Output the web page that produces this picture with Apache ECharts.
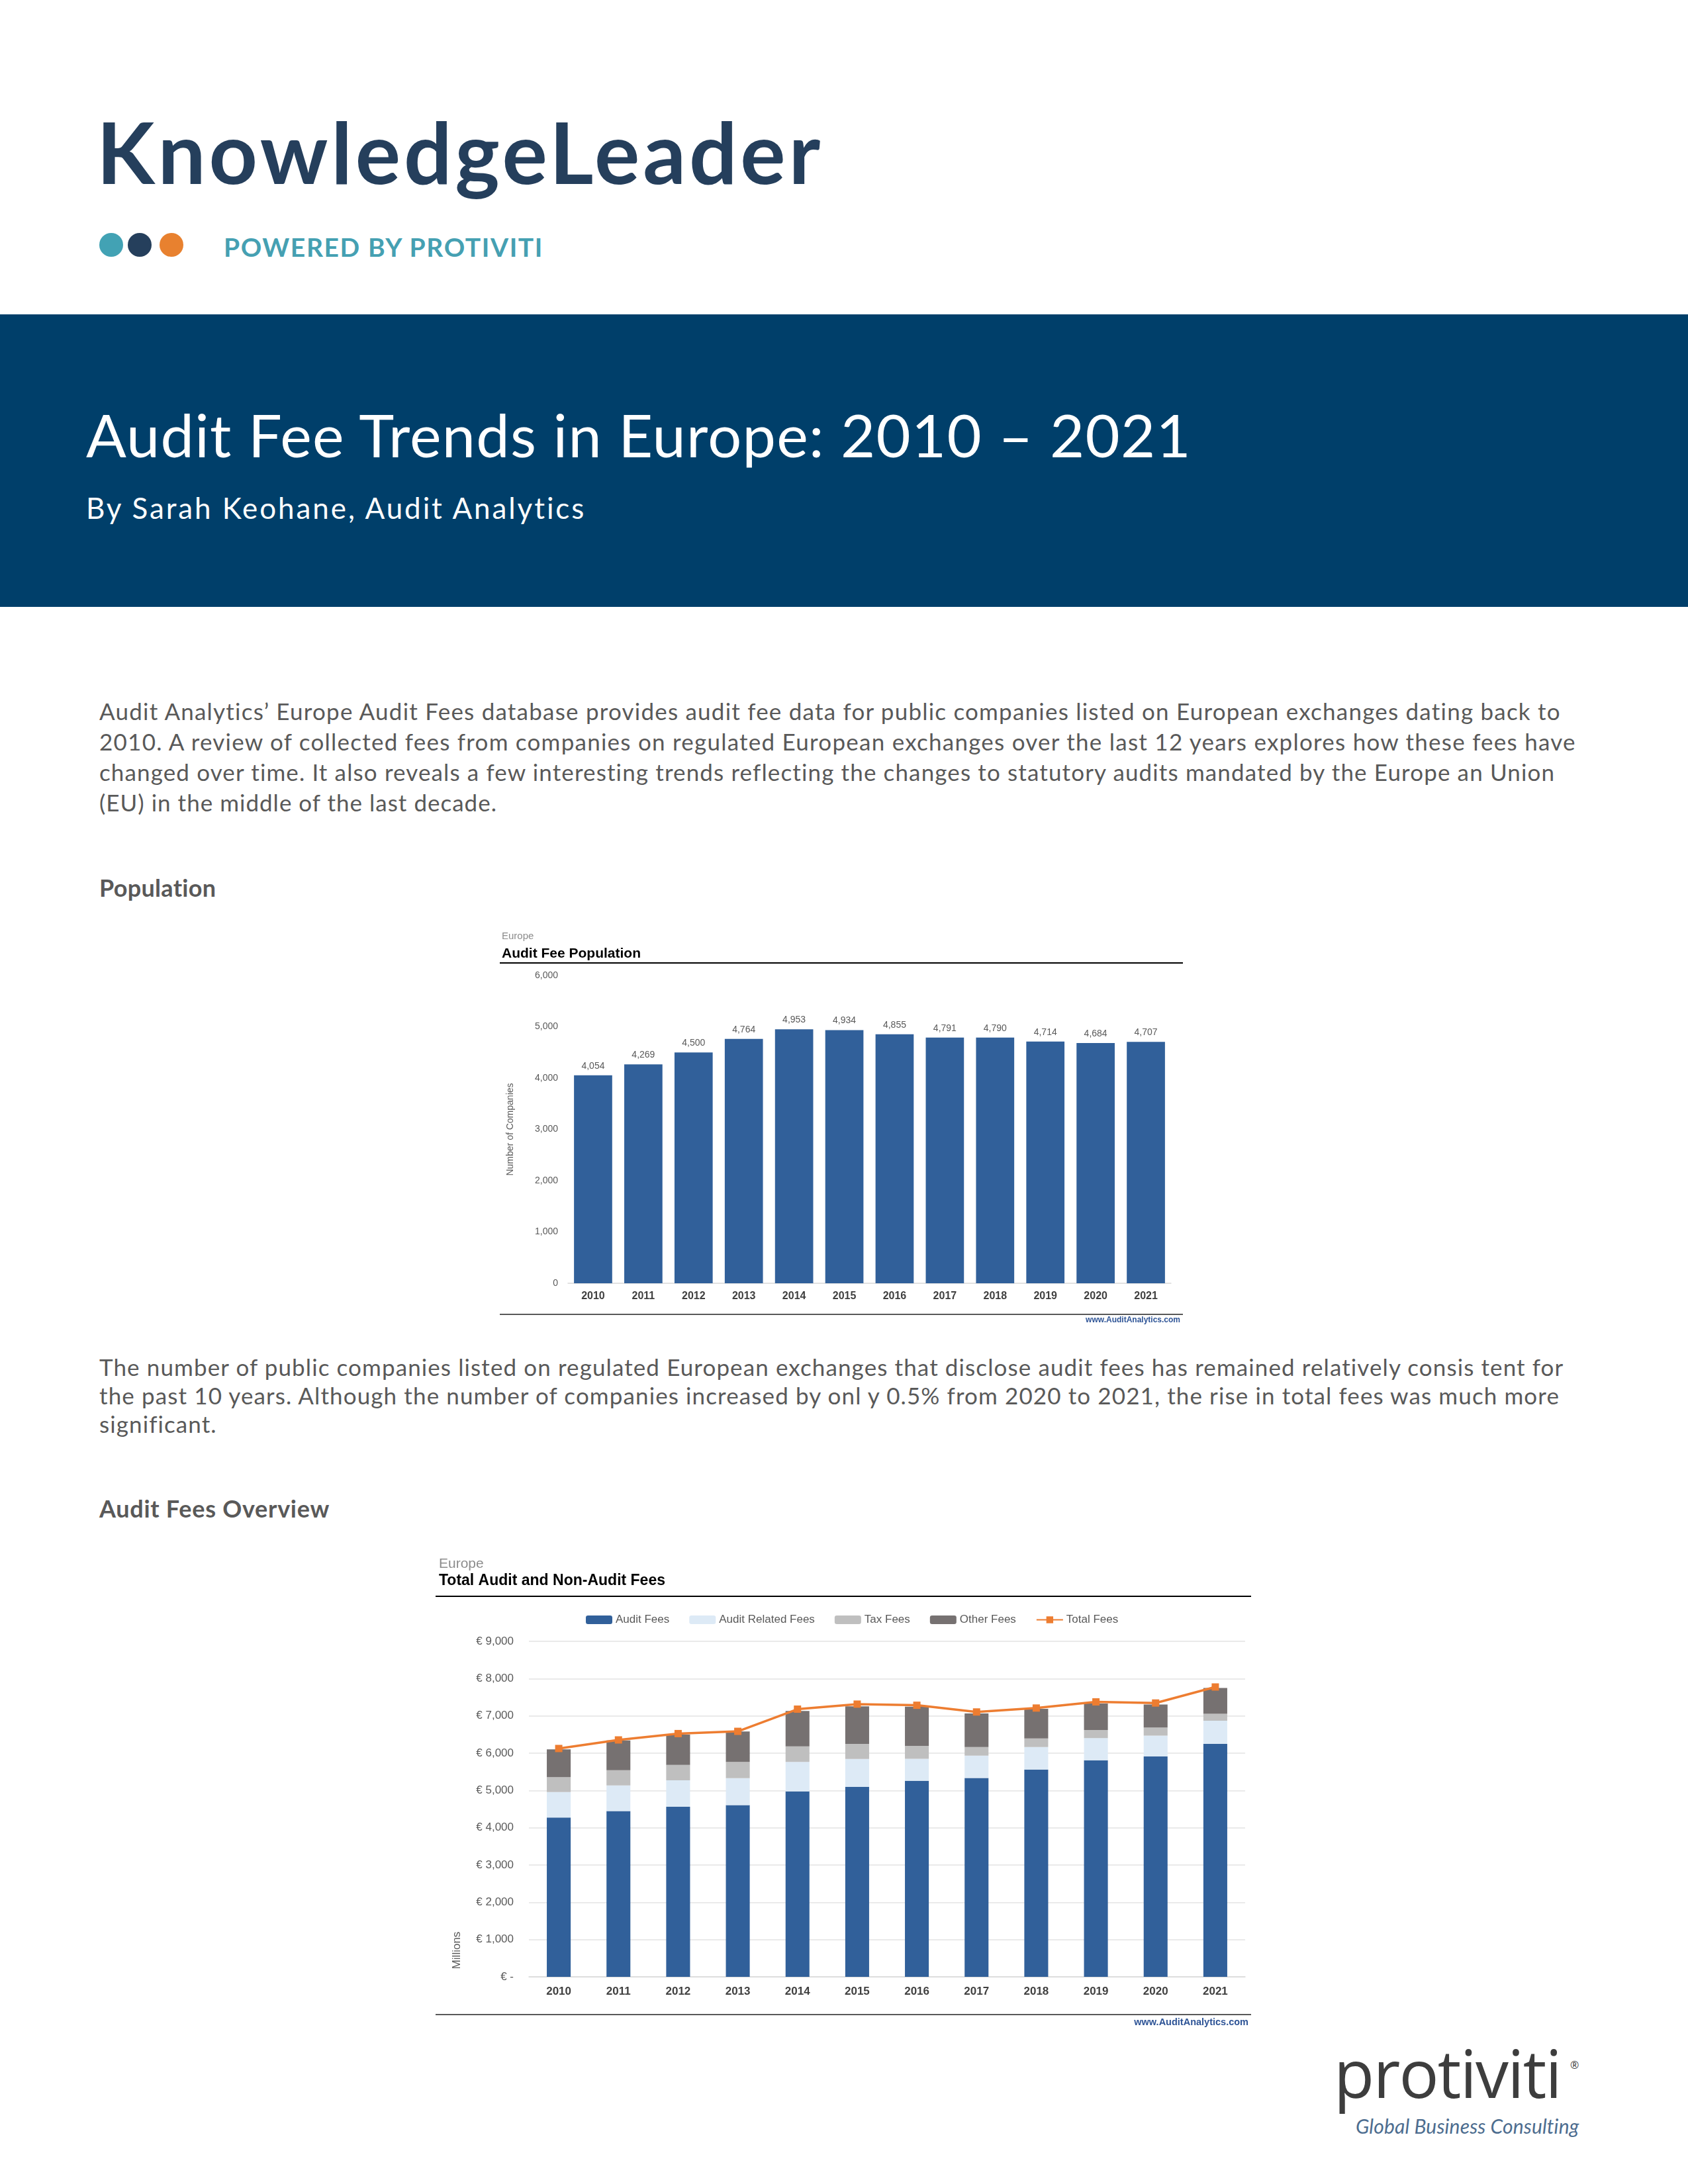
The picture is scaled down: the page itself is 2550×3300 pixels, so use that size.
<!DOCTYPE html>
<html><head><meta charset="utf-8">
<script src="https://cdn.jsdelivr.net/npm/echarts@6/dist/echarts.min.js"></script>
<style>
html,body{margin:0;padding:0;background:#fff;}
body{width:2550px;height:3300px;position:relative;overflow:hidden;font-family:Lato,"Open Sans",sans-serif;}
.t{position:absolute;white-space:nowrap;line-height:1;}
.p{color:#595959;font-size:35px;left:150px;}
.h{color:#595959;font-size:36px;font-weight:700;left:150px;}
.dot{position:absolute;width:36px;height:36px;border-radius:50%;}
</style></head>
<body>
<div class="t fit" data-w="1098" style="left:146px;top:165px;font-size:128px;font-weight:700;color:#253f5c;">KnowledgeLeader</div>
<div class="dot" style="left:150px;top:352px;background:#42a2b4;"></div>
<div class="dot" style="left:193px;top:352px;background:#253f5c;"></div>
<div class="dot" style="left:241px;top:352px;background:#e8812f;"></div>
<div class="t fit" data-w="483" style="left:338px;top:354px;font-size:39px;font-weight:700;color:#45a0b2;">POWERED BY PROTIVITI</div>
<div style="position:absolute;left:0;top:475px;width:2550px;height:442px;background:#003f6a;"></div>
<div class="t fit" data-w="1670" style="left:130px;top:611px;font-size:90px;color:#fff;">Audit Fee Trends in Europe: 2010 – 2021</div>
<div class="t fit" data-w="756" style="left:130px;top:745px;font-size:44px;color:#fff;">By Sarah Keohane, Audit Analytics</div>

<div class="t p fit" data-w="2209" style="top:1057px;">Audit Analytics’ Europe Audit Fees database provides audit fee data for public companies listed on European exchanges dating back to</div>
<div class="t p fit" data-w="2232" style="top:1103px;">2010.  A review of collected fees from companies on regulated European exchanges over the last 12 years explores how these fees have</div>
<div class="t p fit" data-w="2201" style="top:1149px;">changed over time. It also reveals a few interesting trends reflecting the changes to statutory audits mandated by the Europe an Union</div>
<div class="t p fit" data-w="601" style="top:1195px;">(EU) in the middle of the last decade.</div>
<div class="t h fit" data-w="177" style="top:1323px;">Population</div>

<div id="c1" style="position:absolute;left:740px;top:1390px;width:1060px;height:620px;"></div>

<div class="t p fit" data-w="2213" style="top:2048px;">The number of public companies listed on regulated European exchanges that disclose audit fees has remained relatively consis tent for</div>
<div class="t p fit" data-w="2206" style="top:2091px;">the past 10 years. Although the number of companies increased by onl y 0.5% from 2020 to 2021, the rise in total fees was much more</div>
<div class="t p fit" data-w="177" style="top:2134px;">significant.</div>
<div class="t h fit" data-w="348" style="top:2261px;">Audit Fees Overview</div>

<div id="c2" style="position:absolute;left:650px;top:2330px;width:1250px;height:740px;"></div>

<div class="t fit" data-w="343" style="left:2015px;top:3081px;font-size:100px;color:#3d3d3d;font-family:'Open Sans',sans-serif;">protiviti</div>
<div class="t" style="left:2372px;top:3112px;font-size:16px;color:#3d3d3d;font-family:'Open Sans',sans-serif;">®</div>
<div class="t fit" data-w="337" style="left:2048px;top:3197px;font-size:30px;color:#4d6d8f;font-style:italic;">Global Business Consulting</div>

<script>
// ---------- Data ----------
const years = ['2010','2011','2012','2013','2014','2015','2016','2017','2018','2019','2020','2021'];
const companyCounts = [4054,4269,4500,4764,4953,4934,4855,4791,4790,4714,4684,4707];

const auditFees        = [4275,4445,4560,4605,4975,5095,5260,5335,5560,5810,5910,6250];
const auditRelatedFees = [680,690,710,725,790,750,590,600,605,595,560,620];
const taxFees          = [400,410,415,435,415,405,345,230,230,215,220,185];
const otherFees        = [745,795,810,815,950,1005,1050,900,795,710,615,695];
const totalFees        = [6125,6355,6525,6585,7180,7315,7285,7105,7210,7375,7345,7775];

// ---------- fit page text widths ----------
document.querySelectorAll('.fit').forEach(el => {
  const target = +el.dataset.w;
  const n = el.textContent.length;
  const w = el.getBoundingClientRect().width;
  el.style.letterSpacing = ((target - w) / n).toFixed(3) + 'px';
});

const SANS = '"Liberation Sans",Arial,sans-serif';
const fmt = v => v.toLocaleString('en-US');

// ---------- Chart 1 ----------
const c1 = echarts.init(document.getElementById('c1'));
c1.setOption({
  animation:false,
  graphic:[
    {type:'text', x:18, y:25, style:{text:'Europe', fill:'#8c8c8c', font:'15px ' + SANS, verticalAlign:'middle'}},
    {type:'text', x:18, y:51, style:{text:'Audit Fee Population', fill:'#000', font:'bold 21px ' + SANS, verticalAlign:'middle'}},
    {type:'line', shape:{x1:15,y1:65,x2:1047,y2:65}, style:{stroke:'#000', lineWidth:2}},
    {type:'line', shape:{x1:15,y1:596,x2:1047,y2:596}, style:{stroke:'#595959', lineWidth:2}},
    {type:'text', right:17, top:599, style:{text:'www.AuditAnalytics.com', fill:'#2f5597', font:'bold 12px ' + SANS}}
  ],
  grid:{left:118, right:31, top:84, bottom:71},
  xAxis:{type:'category', data:years,
    axisLine:{lineStyle:{color:'#d9d9d9', width:1.5}}, axisTick:{show:false},
    axisLabel:{fontFamily:SANS, fontSize:16, fontWeight:'bold', color:'#404040', margin:12}},
  yAxis:{type:'value', min:0, max:6000, interval:1000,
    name:'Number of Companies', nameLocation:'middle', nameGap:80,
    nameTextStyle:{fontSize:14, color:'#595959', fontFamily:SANS},
    splitLine:{show:false}, axisLine:{show:false}, axisTick:{show:false},
    axisLabel:{formatter:fmt, fontSize:14, color:'#595959', margin:15, fontFamily:SANS}},
  series:[{type:'bar', data:companyCounts, barCategoryGap:'24%',
    itemStyle:{color:'#31609a'},
    label:{show:true, position:'top', distance:7, formatter:p=>fmt(p.value), fontSize:14, color:'#595959', fontFamily:SANS}}]
});

// ---------- Chart 2 ----------
const c2 = echarts.init(document.getElementById('c2'));
const barBase = {type:'bar', stack:'fees', barWidth:'40%'};
c2.setOption({
  animation:false,
  graphic:[
    {type:'text', x:13, y:33, style:{text:'Europe', fill:'#8c8c8c', font:'21px ' + SANS, verticalAlign:'middle'}},
    {type:'text', x:13, y:59, style:{text:'Total Audit and Non-Audit Fees', fill:'#000', font:'bold 23px ' + SANS, verticalAlign:'middle'}},
    {type:'line', shape:{x1:8,y1:82,x2:1240,y2:82}, style:{stroke:'#000', lineWidth:2}},
    {type:'line', shape:{x1:8,y1:714,x2:1240,y2:714}, style:{stroke:'#595959', lineWidth:2}},
    {type:'text', right:14, top:718, style:{text:'www.AuditAnalytics.com', fill:'#2f5597', font:'bold 14.5px ' + SANS}},
    {type:'text', x:40, y:617, rotation:Math.PI/2, style:{text:'Millions', fill:'#595959', font:'17px ' + SANS, align:'center', verticalAlign:'middle'}}
  ],
  legend:{left:230, top:104, itemWidth:40, itemHeight:13, itemGap:30,
    textStyle:{fontFamily:SANS, fontSize:17, color:'#595959'},
    data:['Audit Fees','Audit Related Fees','Tax Fees','Other Fees','Total Fees']},
  grid:{left:149, right:19, top:150, bottom:83},
  xAxis:{type:'category', data:years,
    axisLine:{lineStyle:{color:'#d9d9d9', width:1.5}}, axisTick:{show:false},
    axisLabel:{fontFamily:SANS, fontSize:17, fontWeight:'bold', color:'#404040', margin:14}},
  yAxis:{type:'value', min:0, max:9000, interval:1000,
    splitLine:{lineStyle:{color:'#e3e3e3', width:1.5}}, axisLine:{show:false}, axisTick:{show:false},
    axisLabel:{formatter:v => v === 0 ? '€ -' : '€ ' + fmt(v), fontSize:17, color:'#595959', margin:23, fontFamily:SANS}},
  series:[
    Object.assign({name:'Audit Fees', data:auditFees, itemStyle:{color:'#31609a'}}, barBase),
    Object.assign({name:'Audit Related Fees', data:auditRelatedFees, itemStyle:{color:'#ddeaf6'}}, barBase),
    Object.assign({name:'Tax Fees', data:taxFees, itemStyle:{color:'#bfbfbf'}}, barBase),
    Object.assign({name:'Other Fees', data:otherFees, itemStyle:{color:'#767171'}}, barBase),
    {name:'Total Fees', type:'line', data:totalFees, z:5, symbol:'rect', symbolSize:11,
      lineStyle:{color:'#ed7d31', width:3.5}, itemStyle:{color:'#ed7d31'}}
  ]
});
</script>
</body></html>
